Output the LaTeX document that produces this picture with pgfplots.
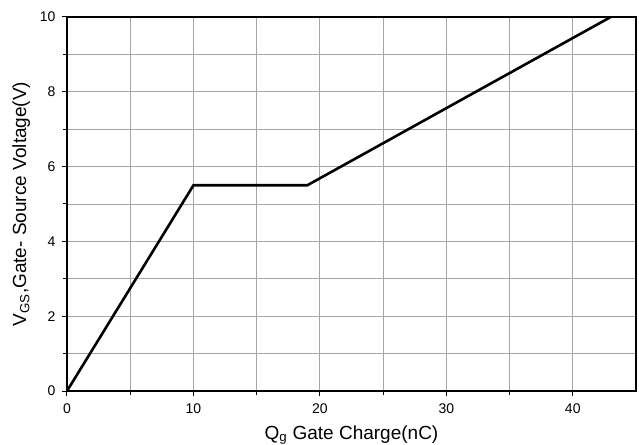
\documentclass[border=0pt]{standalone}
\usepackage{fontspec}
\setmainfont{Liberation Sans}
\usepackage{pgfplots}
\pgfplotsset{compat=1.18}

\begin{document}
\begin{tikzpicture}
\path[use as bounding box] (-67pt,-53pt) rectangle (572pt,391pt);
\begin{axis}[
    at={(0,0)}, anchor=south west,
    scale only axis,
    width=569pt, height=374pt,
    xmin=0, xmax=45, ymin=0, ymax=10,
    xtick={0,10,20,30,40},
    minor xtick={5,15,25,35},
    ytick={0,2,4,6,8,10},
    minor ytick={1,3,5,7,9},
    xtick pos=bottom, ytick pos=left,
    tick align=outside,
    major tick length=5pt, minor tick length=4pt,
    every tick/.style={black, line width=1pt},
    axis line style={line width=1.3pt},
    grid=both,
    major grid style={gray!70, line width=0.8pt},
    minor grid style={gray!70, line width=0.8pt},
    /pgf/number format/assume math mode=true,
    tick label style={font=\fontsize{14}{16}\selectfont},
    xticklabel style={yshift=-4pt},
    yticklabel style={xshift=-3pt},
    label style={font=\fontsize{19}{22}\selectfont},
    xlabel={Q\textsubscript{g} Gate Charge(nC)},
    ylabel={V\textsubscript{GS},Gate- Source Voltage(V)},
    xlabel style={yshift=-5pt},
    ylabel style={yshift=3pt},
]
\addplot[black, line width=2.6pt, line join=miter] coordinates {(0,0) (10,5.5) (19,5.5) (43,10)};
\end{axis}
\end{tikzpicture}
\end{document}
